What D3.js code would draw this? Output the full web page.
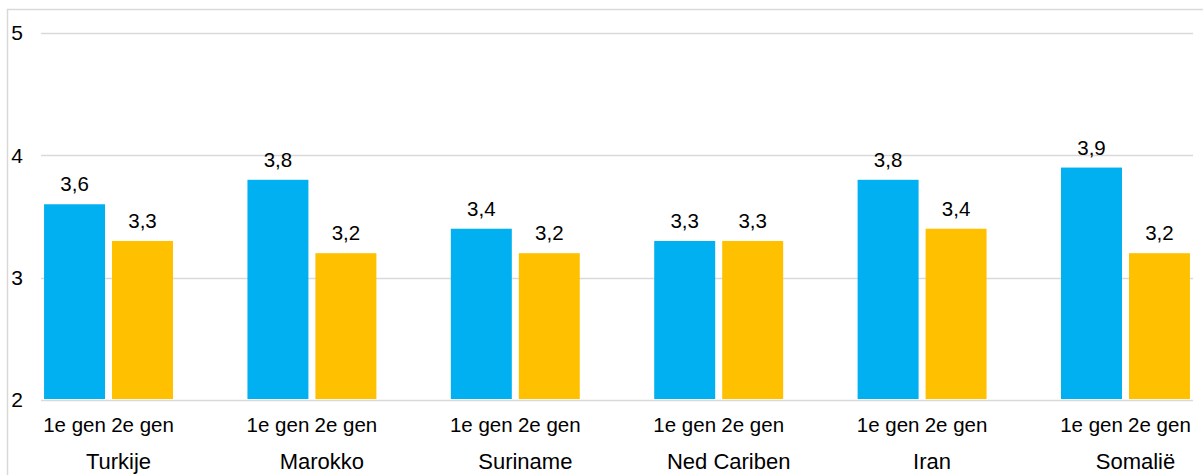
<!DOCTYPE html>
<html>
<head>
<meta charset="utf-8">
<script src="https://cdn.jsdelivr.net/npm/d3@7"></script>
<style>
  html, body { margin: 0; padding: 0; background: #fff; }
  svg { display: block; font-family: "Liberation Sans", Arial, sans-serif; }
</style>
</head>
<body>
<svg id="chart" width="1203" height="475"></svg>
<script>
const categories = ["Turkije", "Marokko", "Suriname", "Ned Cariben", "Iran", "Somalië"];
const seriesNames = ["1e gen", "2e gen"];
const gen1 = [3.6, 3.8, 3.4, 3.3, 3.8, 3.9];
const gen2 = [3.3, 3.2, 3.2, 3.3, 3.4, 3.2];
const yTicks = [2, 3, 4, 5];
const colors = ["#00B0F0", "#FFC000"];

const rows = categories.map((c, i) => ({ cat: c, values: [gen1[i], gen2[i]] }));

const svg = d3.select("#chart");
const W = 1203, H = 475;
const plot = { left: 41, right: 1193, top: 33, bottom: 400 };
const FS = 20.5;

// chart border (left & top visible)
svg.append("rect")
  .attr("x", 7.5).attr("y", 9.5)
  .attr("width", W + 20).attr("height", H + 20)
  .attr("fill", "none").attr("stroke", "#d9d9d9").attr("stroke-width", 1.5);

const y = d3.scaleLinear().domain([2, 5]).range([plot.bottom, plot.top]);
const x0 = d3.scaleBand().domain(categories).range([plot.left, plot.right])
  .paddingInner(0.366).paddingOuter(0.015);
const x1 = d3.scaleBand().domain(seriesNames).range([0, x0.bandwidth()])
  .paddingInner(0.103).paddingOuter(0);

// gridlines
svg.append("g").selectAll("line").data(yTicks).join("line")
  .attr("x1", plot.left).attr("x2", plot.right)
  .attr("y1", d => Math.round(y(d)) + 0.5).attr("y2", d => Math.round(y(d)) + 0.5)
  .attr("stroke", "#d9d9d9").attr("stroke-width", 1.5);

// y tick labels
svg.append("g").selectAll("text").data(yTicks).join("text")
  .attr("x", 23).attr("y", d => y(d))
  .attr("dy", "0.35em")
  .attr("text-anchor", "end")
  .attr("font-size", 21).attr("fill", "#000")
  .text(d => d);

// bars
const groups = svg.append("g").selectAll("g").data(rows).join("g")
  .attr("transform", d => `translate(${x0(d.cat)},0)`);

groups.selectAll("rect").data(d => d.values.map((v, j) => ({ v, s: seriesNames[j], j })))
  .join("rect")
  .attr("x", d => x1(d.s)).attr("width", x1.bandwidth())
  .attr("y", d => y(d.v)).attr("height", d => y(2) - y(d.v) - 1)
  .attr("fill", d => colors[d.j]);

// value labels
groups.selectAll("text.val").data(d => d.values.map((v, j) => ({ v, s: seriesNames[j], j })))
  .join("text").attr("class", "val")
  .attr("x", d => x1(d.s) + x1.bandwidth() / 2)
  .attr("y", d => y(d.v) - 13)
  .attr("text-anchor", "middle")
  .attr("font-size", FS).attr("fill", "#000")
  .text(d => d3.format(".1f")(d.v).replace(".", ","));

// series sub labels
groups.selectAll("text.sub").data(seriesNames).join("text").attr("class", "sub")
  .attr("x", d => x1(d) + x1.bandwidth() / 2)
  .attr("y", 432)
  .attr("text-anchor", "middle")
  .attr("font-size", FS).attr("fill", "#000")
  .text(d => d);

// category labels
groups.append("text")
  .attr("x", x0.bandwidth() / 2 + 10)
  .attr("y", 468.5)
  .attr("text-anchor", "middle")
  .attr("font-size", 22).attr("fill", "#000")
  .text(d => d.cat);
</script>
</body>
</html>
